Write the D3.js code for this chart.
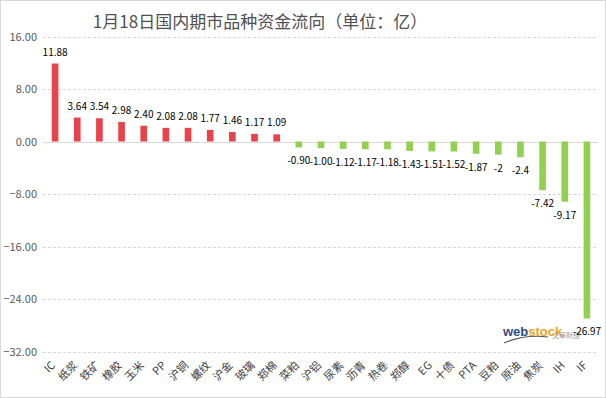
<!DOCTYPE html>
<html>
<head>
<meta charset="utf-8">
<script src="https://cdn.jsdelivr.net/npm/d3@7"></script>
<style>
  html, body { margin: 0; padding: 0; background: #fff; }
  svg { display: block; }
</style>
</head>
<body>
<div id="chart"></div>
<script>
// data
const categories = ["IC", "纸浆", "铁矿", "橡胶", "玉米", "PP", "沪铜", "螺纹", "沪金", "玻璃", "郑棉", "菜粕",
    "沪铝", "尿素", "沥青", "热卷", "郑醇", "EG", "十债", "PTA", "豆粕", "原油", "焦炭", "IH", "IF"];
const values = [11.88, 3.64, 3.54, 2.98, 2.40, 2.08, 2.08, 1.77, 1.46, 1.17, 1.09, -0.90,
    -1.00, -1.12, -1.17, -1.18, -1.43, -1.51, -1.52, -1.87, -2, -2.4, -7.42, -9.17, -26.97];
const valueLabels = ["11.88", "3.64", "3.54", "2.98", "2.40", "2.08", "2.08", "1.77", "1.46", "1.17", "1.09", "-0.90",
    "-1.00", "-1.12", "-1.17", "-1.18", "-1.43", "-1.51", "-1.52", "-1.87", "-2", "-2.4", "-7.42", "-9.17", "-26.97"];
const yTicks = [16, 8, 0, -8, -16, -24, -32];

const width = 606, height = 398;
const font = "'Noto Sans CJK SC', 'Liberation Sans', sans-serif";

const svg = d3.select("#chart").append("svg")
    .attr("width", width)
    .attr("height", height);

// outer frame
svg.append("rect")
    .attr("x", 0.5).attr("y", 0.5)
    .attr("width", width - 1).attr("height", height - 1)
    .attr("fill", "#fff")
    .attr("stroke", "#d9d9d9");

const x = d3.scaleBand()
    .domain(categories)
    .range([44, 598])
    .paddingInner(0.7)
    .paddingOuter(0.35);

const y = d3.scaleLinear()
    .domain([-32, 16])
    .range([351.5, 36.5]);

// gridlines (zero line solid)
svg.append("g")
    .selectAll("line")
    .data(yTicks)
    .join("line")
    .attr("x1", 43).attr("x2", 598)
    .attr("y1", d => Math.round(y(d)) + 0.5)
    .attr("y2", d => Math.round(y(d)) + 0.5)
    .attr("stroke", "#d9d9d9")
    .attr("stroke-dasharray", d => d === 0 ? null : "3,2");

// y labels
svg.append("g")
    .selectAll("text")
    .data(yTicks)
    .join("text")
    .attr("x", 37)
    .attr("y", d => y(d) + 4)
    .attr("text-anchor", "end")
    .attr("font-family", font)
    .attr("font-size", 11)
    .attr("fill", "#595959")
    .text(d => d3.format(".2f")(d));

// title
svg.append("text")
    .attr("x", 260)
    .attr("y", 28)
    .attr("text-anchor", "middle")
    .attr("font-family", font)
    .attr("font-size", 17)
    .attr("fill", "#505050")
    .text("1月18日国内期市品种资金流向（单位：亿）");

// watermark
const wm = svg.append("g").attr("font-family", "'Liberation Sans', sans-serif");
wm.append("path")
    .attr("d", "M504,343 Q525,334 548,337")
    .attr("fill", "none")
    .attr("stroke", "#555")
    .attr("stroke-width", 1.2);
const wmText = wm.append("text")
    .attr("x", 503).attr("y", 336)
    .attr("font-size", 13)
    .attr("font-weight", "bold");
wmText.append("tspan").attr("fill", "#2f4b8c").text("web");
wmText.append("tspan").attr("fill", "#f2a21b").text("stock");
wm.append("text")
    .attr("x", 552).attr("y", 338)
    .attr("font-family", font)
    .attr("font-size", 7)
    .attr("fill", "#a0a0a0")
    .text("文華財經");

// bars
const data = categories.map((c, i) => ({ c, v: values[i], label: valueLabels[i] }));

svg.append("g")
    .selectAll("rect")
    .data(data)
    .join("rect")
    .attr("x", d => x(d.c))
    .attr("width", x.bandwidth())
    .attr("y", d => y(Math.max(0, d.v)))
    .attr("height", d => Math.abs(y(d.v) - y(0)))
    .attr("fill", d => d.v >= 0 ? "#e8424a" : "#92d050");

// value labels
svg.append("g")
    .selectAll("text")
    .data(data)
    .join("text")
    .attr("x", d => x(d.c) + x.bandwidth() / 2)
    .attr("y", d => d.v >= 0 ? y(d.v) - 8 : y(d.v) + 17)
    .attr("text-anchor", "middle")
    .attr("font-family", font)
    .attr("font-size", 10)
    .attr("fill", "#000")
    .text(d => d.label);

// category labels, rotated
svg.append("g")
    .selectAll("text")
    .data(categories)
    .join("text")
    .attr("transform", d => `translate(${x(d) + x.bandwidth() / 2 + 1},${366}) rotate(-45)`)
    .attr("text-anchor", "end")
    .attr("font-family", font)
    .attr("font-size", 11)
    .attr("fill", "#404040")
    .text(d => d);
</script>
</body>
</html>
